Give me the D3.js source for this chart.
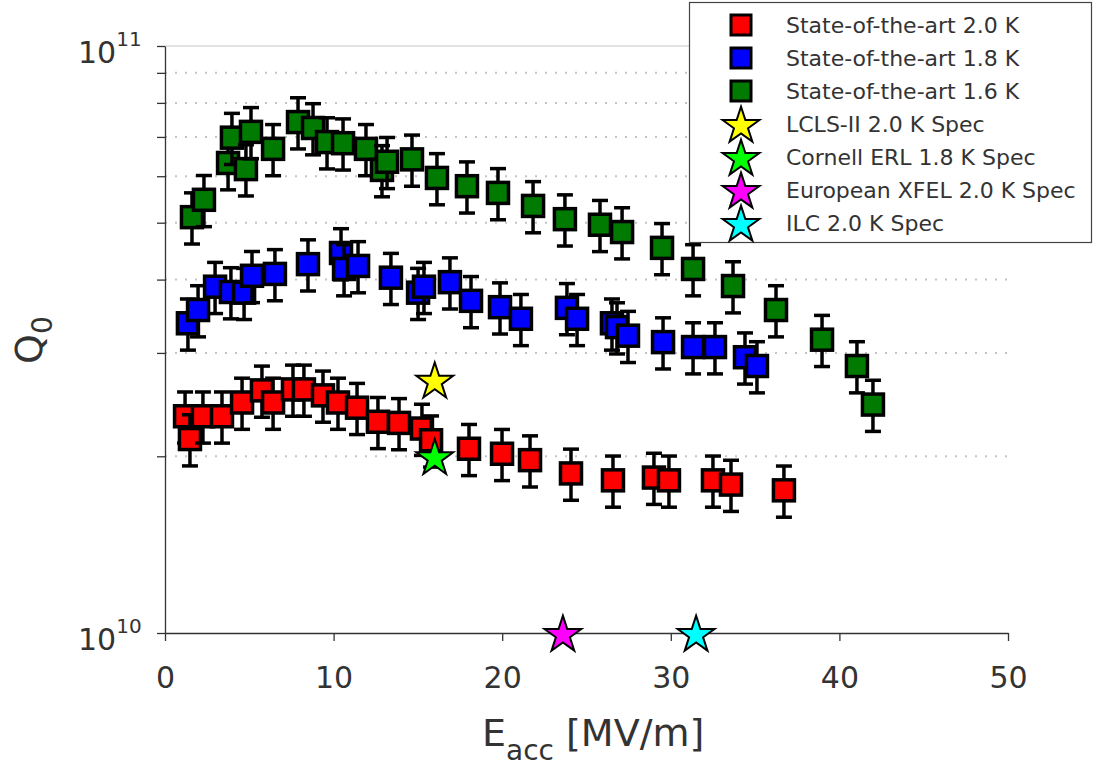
<!DOCTYPE html>
<html>
<head>
<meta charset="utf-8">
<script src="https://cdn.jsdelivr.net/npm/d3@7"></script>
<style>
  body { margin: 0; background: #fff; }
  svg text { font-family: "DejaVu Sans", sans-serif; fill: #333; }
</style>
</head>
<body>
<div id="chart"></div>
<script>
// Q0 values are in units of 1e10
const eRed = [1.19, 1.48, 2.25, 3.38, 4.57, 5.75, 6.41, 7.59, 8.24, 9.37, 10.26, 11.39, 12.63, 13.88, 15.24, 15.78, 18.03, 19.99, 21.65, 24.08, 26.57, 29.0, 29.89, 32.5, 33.57, 36.71];
const qRed = [2.34, 2.14, 2.34, 2.34, 2.47, 2.59, 2.47, 2.60, 2.60, 2.54, 2.47, 2.42, 2.29, 2.28, 2.23, 2.13, 2.06, 2.02, 1.97, 1.87, 1.82, 1.84, 1.82, 1.82, 1.79, 1.75];

const eBlue = [1.36, 1.96, 2.97, 3.91, 4.69, 5.16, 6.52, 8.48, 10.44, 10.62, 11.45, 13.4, 15.01, 15.36, 16.9, 18.15, 19.87, 21.11, 23.84, 24.44, 26.51, 26.81, 27.46, 29.54, 31.32, 32.62, 34.4, 35.11];
const qBlue = [3.37, 3.55, 3.89, 3.81, 3.80, 4.06, 4.09, 4.25, 4.44, 4.17, 4.22, 4.03, 3.80, 3.89, 3.96, 3.68, 3.59, 3.43, 3.58, 3.43, 3.37, 3.32, 3.21, 3.13, 3.07, 3.07, 2.95, 2.85];

const eGreen = [1.6, 2.31, 3.74, 3.97, 4.8, 5.1, 6.41, 7.89, 8.78, 9.61, 10.56, 11.92, 12.87, 13.17, 14.65, 16.13, 17.91, 19.75, 21.83, 23.72, 25.8, 27.11, 29.48, 31.32, 33.69, 36.24, 38.97, 41.04, 41.99];
const qGreen = [5.11, 5.47, 6.32, 6.98, 6.17, 7.14, 6.68, 7.42, 7.25, 6.86, 6.83, 6.68, 6.15, 6.35, 6.41, 5.96, 5.77, 5.62, 5.34, 5.07, 4.96, 4.82, 4.53, 4.17, 3.90, 3.55, 3.16, 2.85, 2.45];

const relErr = 0.10;

const specNames = ["LCLS-II 2.0 K Spec", "Cornell ERL 1.8 K Spec", "European XFEL 2.0 K Spec", "ILC 2.0 K Spec"];
const specE = [16.0, 16.0, 23.6, 31.5];
const specQ = [2.7, 2.0, 1.0, 1.0];
const specColors = ["#ffff00", "#00ff00", "#ff00ff", "#00ffff"];

const seriesNames = ["State-of-the-art 2.0 K", "State-of-the-art 1.8 K", "State-of-the-art 1.6 K"];
const seriesColors = ["#ff0000", "#0000ff", "#007a00"];

const xTicks = [0, 10, 20, 30, 40, 50];
const yMinor = [2, 3, 4, 5, 6, 7, 8, 9];

const W = 1095, H = 767;
const margin = {top: 46, left: 165, right: 87, bottom: 134};

const svg = d3.select('#chart').append('svg')
  .attr('width', W)
  .attr('height', H);

const x = d3.scaleLinear().domain([0, 50]).range([margin.left, W - margin.right]);
const y = d3.scaleLog().domain([1, 10]).range([H - margin.bottom, margin.top]);

// dotted grid lines
svg.append('g').selectAll('line')
  .data(yMinor)
  .enter().append('line')
  .attr('x1', x(0)).attr('x2', x(50))
  .attr('y1', d => y(d)).attr('y2', d => y(d))
  .attr('stroke', '#c4c4c4')
  .attr('stroke-width', 2)
  .attr('stroke-dasharray', '2,8');

// top border
svg.append('line')
  .attr('x1', x(0)).attr('x2', x(50))
  .attr('y1', y(10)).attr('y2', y(10))
  .attr('stroke', '#d8d8d8').attr('stroke-width', 1.5);

// axes
const xAxis = svg.append('g')
  .attr('transform', `translate(0,${y(1)})`)
  .call(d3.axisBottom(x).tickValues(xTicks).tickSize(8).tickSizeOuter(0).tickPadding(20));
xAxis.selectAll('text').style('font-size', '30px').attr('dy', '0.9em');

const yAxis = svg.append('g')
  .attr('transform', `translate(${x(0)},0)`)
  .call(d3.axisLeft(y).tickValues([1].concat(yMinor, [10])).tickSize(8).tickSizeOuter(0).tickFormat(''));

svg.selectAll('.domain, .tick line').attr('stroke', '#333').attr('stroke-width', 1.3);

// y labels 10^10 / 10^11
[[1, '10'], [10, '11']].forEach(([v, ex]) => {
  const t = svg.append('text')
    .attr('x', 78).attr('y', y(v) + 17)
    .style('font-size', '30px');
  t.append('tspan').text('10');
  t.append('tspan').attr('dy', -17).style('font-size', '20px').text(ex);
});

// axis titles
const xl = svg.append('text')
  .attr('x', 482).attr('y', 746)
  .style('font-size', '38px');
xl.append('tspan').text('E');
xl.append('tspan').attr('dy', 14).style('font-size', '28px').text('acc');
xl.append('tspan').attr('dy', -14).text(' [MV/m]');

const yl = svg.append('text')
  .attr('transform', 'translate(42,364) rotate(-90)')
  .style('font-size', '38px');
yl.append('tspan').text('Q');
yl.append('tspan').attr('dy', 10).style('font-size', '28px').text('0');

// series with error bars
const series = [
  {e: eRed, q: qRed},
  {e: eBlue, q: qBlue},
  {e: eGreen, q: qGreen}
];
const sq = 21;
series.forEach((s, i) => {
  const pts = s.e.map((e, j) => ({e: e, q: s.q[j]}));
  const g = svg.append('g');
  const pg = g.selectAll('g').data(pts).enter().append('g');
  pg.append('line')
    .attr('x1', d => x(d.e)).attr('x2', d => x(d.e))
    .attr('y1', d => y(d.q * (1 + relErr))).attr('y2', d => y(d.q * (1 - relErr)))
    .attr('stroke', '#000').attr('stroke-width', 3.5);
  [1 + relErr, 1 - relErr].forEach(f => {
    pg.append('line')
      .attr('x1', d => x(d.e) - 8).attr('x2', d => x(d.e) + 8)
      .attr('y1', d => y(d.q * f)).attr('y2', d => y(d.q * f))
      .attr('stroke', '#000').attr('stroke-width', 3.5);
  });
  pg.append('rect')
    .attr('x', d => x(d.e) - sq / 2).attr('y', d => y(d.q) - sq / 2)
    .attr('width', sq).attr('height', sq)
    .attr('fill', seriesColors[i])
    .attr('stroke', '#000').attr('stroke-width', 3.5);
});

// stars
const star = d3.symbol().type(d3.symbolStar).size(420);
svg.append('g').selectAll('path')
  .data(specE.map((e, i) => ({e: e, q: specQ[i], c: specColors[i]})))
  .enter().append('path')
  .attr('d', star)
  .attr('transform', d => `translate(${x(d.e)},${y(d.q) + 2})`)
  .attr('fill', d => d.c)
  .attr('stroke', '#000').attr('stroke-width', 2);

// legend
const lg = svg.append('g');
lg.append('rect')
  .attr('x', 689.5).attr('y', 2.5).attr('width', 402).attr('height', 240)
  .attr('fill', '#fff').attr('stroke', '#444').attr('stroke-width', 1.2);
const legendItems = seriesNames.map((n, i) => ({n: n, c: seriesColors[i], t: 'sq'}))
  .concat(specNames.map((n, i) => ({n: n, c: specColors[i], t: 'star'})));
legendItems.forEach((d, i) => {
  const cy = 25 + i * 33;
  if (d.t === 'sq') {
    lg.append('rect')
      .attr('x', 741 - 10).attr('y', cy - 10).attr('width', 20).attr('height', 20)
      .attr('fill', d.c).attr('stroke', '#000').attr('stroke-width', 3);
  } else {
    lg.append('path').attr('d', star)
      .attr('transform', `translate(741,${cy + 2})`)
      .attr('fill', d.c).attr('stroke', '#000').attr('stroke-width', 2);
  }
  lg.append('text')
    .attr('x', 786).attr('y', cy + 8)
    .style('font-size', '22px')
    .text(d.n);
});
</script>
</body>
</html>
